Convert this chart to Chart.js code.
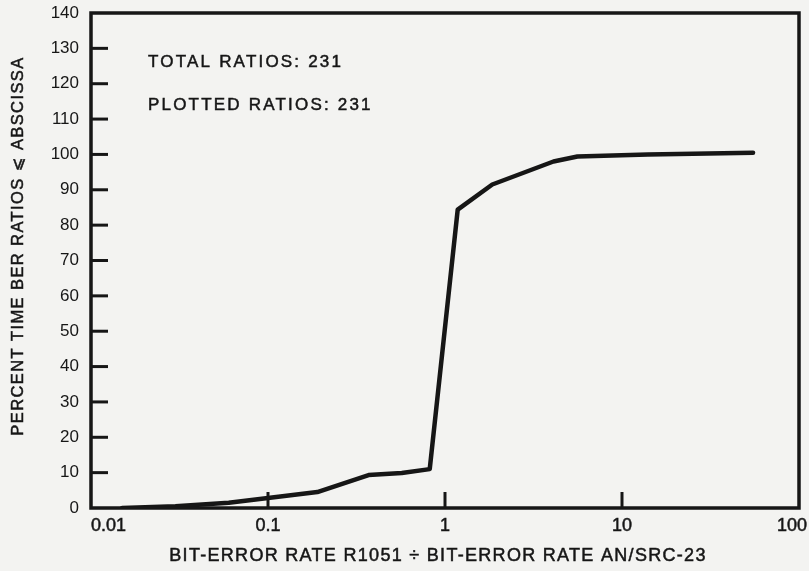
<!doctype html>
<html lang="en">
    <head>
        <meta charset="utf-8">
        <script src="https://cdn.jsdelivr.net/npm/chart.js"></script>
        <style>
        html, body {
            margin: 0;
            padding: 0;
            background-color: #f3f3f1;
        }
        #wrap {
            width: 809px;
            height: 571px;
        }
        </style>
        <title></title>
    </head>
    <body>
        <div id="wrap"><canvas id="chart" width="809" height="571"></canvas></div>
        <script>
        // data
        const ratioX = [0.015, 0.03, 0.06, 0.1, 0.19, 0.37, 0.57, 0.82, 1.18, 1.85, 4.1, 5.6, 14, 55];
        const percentY = [0, 0.5, 1.5, 2.8, 4.5, 9.3, 9.9, 11.0, 84.4, 91.5, 98, 99.4, 100, 100.5];
        const xTicks = [0.01, 0.1, 1, 10, 100];
        const xTickLabels = ['0.01', '0.1', '1', '10', '100'];
        const yTicks = [0, 10, 20, 30, 40, 50, 60, 70, 80, 90, 100, 110, 120, 130, 140];
        const notes = ['TOTAL RATIOS: 231', 'PLOTTED RATIOS: 231'];
        const xTitle = 'BIT-ERROR RATE R1051 \u00F7 BIT-ERROR RATE AN/SRC-23';
        const yTitle = 'PERCENT TIME BER RATIOS \u2A7D ABSCISSA';

        const ink = '#161616';
        const fontFam = "'Liberation Sans', Arial, 'DejaVu Sans', sans-serif";

        // a little heavier than regular, like the typewritten-ish originals
        function heavyText(ctx, txt, x, y) {
            ctx.fillText(txt, x, y);
            ctx.strokeText(txt, x, y);
        }

        // frame, inner tick marks, labels and titles
        const framePlugin = {
            id: 'frame',
            afterDraw(chart) {
                const ctx = chart.ctx;
                const a = chart.chartArea;
                const xs = chart.scales.x;
                const ys = chart.scales.y;
                ctx.save();
                ctx.strokeStyle = ink;
                ctx.lineWidth = 3.5;
                ctx.strokeRect(a.left, a.top, a.right - a.left, a.bottom - a.top);

                ctx.lineWidth = 3;
                yTicks.slice(1, -1).forEach(function (v) {
                    const py = ys.getPixelForValue(v);
                    ctx.beginPath();
                    ctx.moveTo(a.left, py);
                    ctx.lineTo(a.left + 17, py);
                    ctx.stroke();
                });
                xTicks.slice(1, -1).forEach(function (v) {
                    const px = xs.getPixelForValue(v);
                    ctx.beginPath();
                    ctx.moveTo(px, a.bottom);
                    ctx.lineTo(px, a.bottom - 16);
                    ctx.stroke();
                });

                ctx.fillStyle = ink;
                ctx.lineWidth = 0.5;
                ctx.font = '18px ' + fontFam;
                ctx.textBaseline = 'middle';
                xTicks.forEach(function (v, i) {
                    const px = xs.getPixelForValue(v);
                    if (i === 0) {
                        ctx.textAlign = 'left';
                        heavyText(ctx, xTickLabels[i], px, a.bottom + 18);
                    } else if (i === xTicks.length - 1) {
                        ctx.textAlign = 'right';
                        heavyText(ctx, xTickLabels[i], px + 8, a.bottom + 18);
                    } else {
                        ctx.textAlign = 'center';
                        heavyText(ctx, xTickLabels[i], px, a.bottom + 18);
                    }
                });

                ctx.letterSpacing = '1.3px';
                ctx.font = '18px ' + fontFam;
                ctx.textAlign = 'center';
                heavyText(ctx, xTitle, 438, 556);

                ctx.letterSpacing = '1.4px';
                ctx.font = '16.5px ' + fontFam;
                ctx.translate(18, 246);
                ctx.rotate(-Math.PI / 2);
                heavyText(ctx, yTitle, 0, 0);
                ctx.restore();

                ctx.save();
                ctx.fillStyle = ink;
                ctx.strokeStyle = ink;
                ctx.lineWidth = 0.5;
                ctx.letterSpacing = '2.2px';
                ctx.font = '17px ' + fontFam;
                ctx.textAlign = 'left';
                ctx.textBaseline = 'alphabetic';
                heavyText(ctx, notes[0], 148, 67);
                heavyText(ctx, notes[1], 148, 110);
                ctx.restore();
            }
        };

        const points = ratioX.map(function (x, i) {
            return { x: x, y: percentY[i] };
        });

        new Chart(document.getElementById('chart'), {
            type: 'scatter',
            data: {
                datasets: [{
                    data: points,
                    showLine: true,
                    borderColor: ink,
                    borderWidth: 4.5,
                    tension: 0,
                    pointRadius: 0,
                    borderJoinStyle: 'round',
                    borderCapStyle: 'round'
                }]
            },
            options: {
                responsive: false,
                animation: false,
                layout: { padding: { left: 0, top: 13, right: 10, bottom: 0 } },
                plugins: {
                    legend: { display: false },
                    tooltip: { enabled: false }
                },
                scales: {
                    x: {
                        type: 'logarithmic',
                        min: 0.01,
                        max: 100,
                        grid: { display: false, drawTicks: false },
                        border: { display: false },
                        ticks: { display: false },
                        afterBuildTicks: function (scale) {
                            scale.ticks = xTicks.map(function (v) { return { value: v }; });
                        },
                        afterFit: function (scale) {
                            scale.height = 63;
                            scale.paddingLeft = 0;
                            scale.paddingRight = 0;
                        }
                    },
                    y: {
                        min: 0,
                        max: 140,
                        grid: { display: false, drawTicks: false },
                        border: { display: false },
                        ticks: {
                            stepSize: 10,
                            padding: 12,
                            color: ink,
                            font: { family: fontFam, size: 17 }
                        },
                        afterBuildTicks: function (scale) {
                            scale.ticks = yTicks.map(function (v) { return { value: v }; });
                        },
                        afterFit: function (scale) {
                            scale.width = 91;
                            scale.paddingTop = 0;
                            scale.paddingBottom = 0;
                        }
                    }
                }
            },
            plugins: [framePlugin]
        });
        </script>
    </body>
</html>
